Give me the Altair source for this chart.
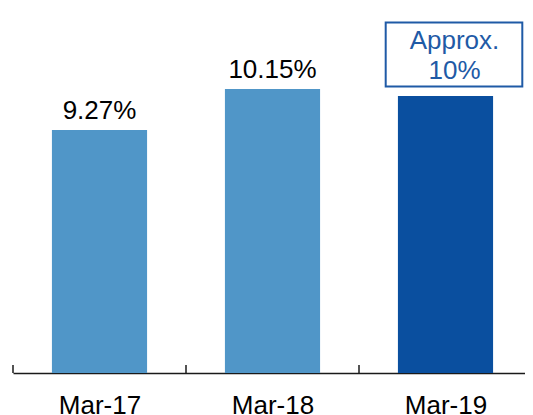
import json
import altair as alt
import pandas as pd

categories = ["Mar-17", "Mar-18", "Mar-19"]
values = [9.27, 10.15, 10.0]
labels = ["9.27%", "10.15%", "Approx.\n10%"]
estimate = [False, False, True]

STEP = 173
W, H = 512, 365
half = 0.275

df = pd.DataFrame({
    "cat": categories,
    "value": values,
    "label": labels,
    "est": estimate,
})
df["pos"] = [i + 0.5 for i in range(len(categories))]
df["x0"] = df["pos"] - half
df["x1"] = df["pos"] + half
df["kind"] = ["estimate" if e else "actual" for e in estimate]

bounds = pd.DataFrame({"b": list(range(len(categories)))})

xscale = alt.Scale(domain=[0, W / STEP], nice=False, zero=False)
yscale = alt.Scale(domain=[4.054, 11.889], nice=False, zero=False)

label_expr = json.dumps(categories) + "[floor(datum.value)]"

bars = alt.Chart(df).mark_bar().encode(
    x=alt.X("x0:Q", scale=xscale,
            axis=alt.Axis(values=[0.5, 1.5, 2.5], labelExpr=label_expr,
                          ticks=False, tickSize=0, grid=False, title=None,
                          domain=True, domainColor="#1a1a1a", domainWidth=1.5,
                          labelFont="Liberation Sans", labelFontSize=26,
                          labelColor="#000000", labelPadding=19)),
    x2="x1:Q",
    y=alt.Y("value:Q", scale=yscale, axis=None),
    y2=alt.value(H),
    color=alt.Color("kind:N",
                    scale=alt.Scale(domain=["actual", "estimate"],
                                    range=["#5096C8", "#0A4F9F"]),
                    legend=None),
)

ticks = alt.Chart(bounds).mark_rule(color="#1a1a1a", strokeWidth=1.5).encode(
    x=alt.X("b:Q", scale=xscale),
    y=alt.value(H - 8),
    y2=alt.value(H),
)

vals = alt.Chart(df).transform_filter("!datum.est").mark_text(
    font="Liberation Sans", fontSize=26, color="#000000",
    baseline="alphabetic", dy=-11,
).encode(
    x=alt.X("pos:Q", scale=xscale),
    y=alt.Y("value:Q", scale=yscale),
    text="label:N",
)

est_text = alt.Chart(df).transform_filter("datum.est").mark_text(
    font="Liberation Sans", fontSize=26, color="#1F5AA6",
    baseline="alphabetic", lineBreak="\n", lineHeight=30, dx=9, dy=-47,
).encode(
    x=alt.X("pos:Q", scale=xscale),
    y=alt.Y("value:Q", scale=yscale),
    text="label:N",
)

box = alt.Chart(df).transform_filter("datum.est").mark_point(
    shape="M-1,-0.4685H1V0.4685H-1Z", size=18660, filled=False,
    stroke="#1F5AA6", strokeWidth=2, opacity=1, xOffset=8.5, yOffset=-41.6,
).encode(
    x=alt.X("pos:Q", scale=xscale),
    y=alt.Y("value:Q", scale=yscale),
)

chart = alt.layer(bars, ticks, vals, est_text, box).properties(
    width=W, height=H,
    autosize=alt.AutoSizeParams(type="none"),
    padding={"left": 5, "top": 0, "right": 0, "bottom": 42},
).configure_view(stroke=None)

chart.save("out.html", embed_options={"renderer": "svg", "actions": False})
